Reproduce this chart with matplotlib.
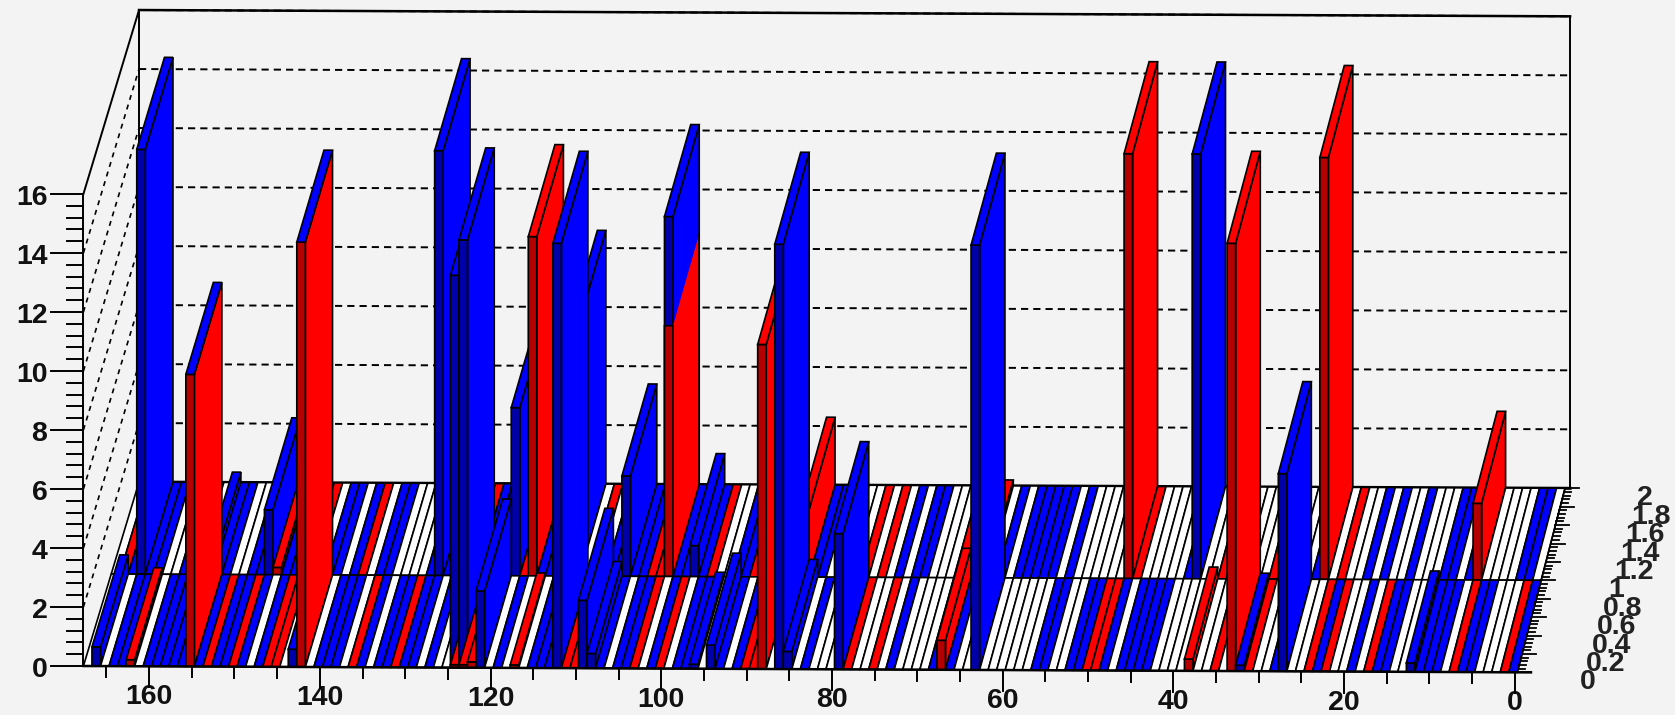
import matplotlib
matplotlib.use('Agg')
import matplotlib.pyplot as plt
from matplotlib.patches import Polygon

# colour of every flat cell, left to right (x = 167 down to 0), one row per y bin
front_cells = ("wbwbbrwbbb" "bbrbrbbrbw" "brrwbrwbbb" "wrbwbbrbbw" "bwwbbrbwbw"
               "rwbbbbrrbb" "bwbbrwbrwb" "bbwbbwbrrr" "wbbwbwwwbr" "wwrwbwwwwb"
               "rbwwbwwwww" "wbbwwbbrrb" "wbbbbwwwwr" "wwrwrbrwwb" "bwwrbrwwbw"
               "rbbwwbbbbw" "rbbwwwrb")
back_cells = ("wrbbbbwwbb" "wbbbwwbbbr" "bbbrwbbwbr" "wbbwwwwbbb" "bbrbbbbbrr"
              "bbrbbwrwbb" "bbbrrbbbbb" "rwwbbrwrbr" "brbbwwwwrw" "rwbwbbwwwr"
              "rbrwbwbbbb" "bwbwwwwwwr" "rwwwwwbbww" "rwwwwwrwww" "wbrwrwwbwb"
              "wwbwwwbbwb" "rwwwwbbw")

# raised bars in the row y=0..1
front_x = [166, 162, 155, 143, 142, 124, 124, 123, 123, 122, 121, 117, 112, 109, 108,
           96, 94, 88, 86, 85, 79, 67, 63, 38, 33, 32, 27, 12]
front_z = [0.65, 0.22, 9.9, 0.6, 14.4, 13.3, 0.1, 14.5, 0.1, 0.2, 2.6, 0.1, 14.4, 2.3, 0.5,
           0.15, 0.8, 11.0, 14.4, 0.6, 4.6, 1.0, 14.4, 0.4, 14.5, 0.2, 6.7, 0.3]
front_col = "brrbrbrbrrbrbbbbbrbbbrbrrbbb"
front_top = "brbbbbrbrrbrbbbbbrbbbrbrrbbb"

# raised bars in the row y=1..2, '-' as top: stacked under the bar drawn before it
back_x = [164, 156, 149, 148, 129, 120, 118, 113, 107, 102, 102, 99, 86, 65, 48, 40, 25, 7]
back_z = [14.4, 0.35, 2.2, 0.25, 14.4, 5.7, 11.5, 8.6, 3.4, 12.2, 8.5, 1.05, 2.3, 0.2, 14.4, 14.4, 14.3, 2.6]
back_col = "bbbrbbrbbbrbrrrbrr"
back_top = "bbbrbbrbbb-brrrbrr"

x_labels = [0, 20, 40, 60, 80, 100, 120, 140, 160]
y_labels = ['0', '0.2', '0.4', '0.6', '0.8', '1', '1.2', '1.4', '1.6', '1.8', '2']
z_labels = [0, 2, 4, 6, 8, 10, 12, 14, 16]

bright = {'b': '#0000ff', 'r': '#ff0000', 'w': '#ffffff'}
dark = {'b': '#0000aa', 'r': '#b40000', 'w': '#ffffff'}
LW = 1.2
FONT = 'Liberation Sans'


def project(x, y, z=0):
    # oblique view of the lego box, the result is in figure pixels
    sx = 1517.3 + 23.85 * y - (8.535 - 0.0235 * y) * x
    sy = 666 + (sx - 23.85 * y - 84) * 0.0044 - 92 * y - 29.5 * z
    return sx, sy


def draw_cell(ax, x, y, z, col, top):
    x0, x1 = x, x + 1
    y0, y1 = y, y + 1
    if z > 0:
        front = [project(x1, y0, 0), project(x0, y0, 0), project(x0, y0, z), project(x1, y0, z)]
        side = [project(x0, y0, 0), project(x0, y1, 0), project(x0, y1, z), project(x0, y0, z)]
        if top == '-':
            # no black seam between the two parts of a stack
            ax.add_patch(Polygon(side, fc=bright[col], ec='none'))
            line(ax, side[1], (side[1][0], side[1][1] - 29.5 * z), lw=LW, zorder=1)
        else:
            ax.add_patch(Polygon(side, fc=bright[col], ec='black', lw=LW))
        ax.add_patch(Polygon(front, fc=dark[col], ec='black', lw=LW))
    if top != '-':
        roof = [project(x1, y0, z), project(x0, y0, z), project(x0, y1, z), project(x1, y1, z)]
        ax.add_patch(Polygon(roof, fc=bright[top], ec='black', lw=LW))


def draw_row(ax, y, cells, bar_x, bar_z, bar_col, bar_top):
    for i, c in enumerate(cells):
        x = 167 - i
        raised = [k for k, v in enumerate(bar_x) if v == x]
        if not raised:
            draw_cell(ax, x, y, 0, c, c)
        for k in raised:
            draw_cell(ax, x, y, bar_z[k], bar_col[k], bar_top[k])


def line(ax, p, q, **kw):
    kw.setdefault('color', 'black')
    kw.setdefault('lw', 1.2)
    kw.setdefault('zorder', 0.5)
    ax.plot([p[0], q[0]], [p[1], q[1]], **kw)


fig = plt.figure(figsize=(16.75, 7.15), dpi=100, facecolor='#f3f3f3')
ax = fig.add_axes([0, 0, 1, 1])
ax.set_xlim(0, 1675)
ax.set_ylim(715, 0)
ax.axis('off')

# walls
XR = -0.6
for z in z_labels[1:]:
    line(ax, project(168, 2, z), project(XR, 2, z), ls=(0, (3.7, 2.6)), lw=1.4)
for z in z_labels[1:-1]:
    line(ax, project(168, 0, z), project(168, 2, z), ls=(0, (3, 3)), lw=1.2)
line(ax, project(168, 0, 0), project(168, 0, 16), lw=1.4)
line(ax, project(168, 0, 16), project(168, 2, 16), lw=1.4)
line(ax, project(168, 2, 0), project(168, 2, 16), lw=1.4)
line(ax, project(168, 2, 16), project(XR, 2, 16), lw=1.8)
line(ax, project(XR, 2, 0), project(XR, 2, 16), lw=1.4)
line(ax, project(168, 2, 0), project(XR, 2, 0), lw=2.2)

draw_row(ax, 1, back_cells, back_x, back_z, back_col, back_top)
draw_row(ax, 0, front_cells, front_x, front_z, front_col, front_top)

# x axis
line(ax, project(168, 0), project(-1.6, 0), lw=1.8, zorder=5)
for v in range(0, 170, 5):
    sx, sy = project(v + 0.3, 0)
    length = 20 if v % 20 == 0 else 10
    line(ax, (sx, sy + 1), (sx, sy + 1 + length), lw=1.4, zorder=5)
for v in x_labels:
    sx, sy = project(v + 0.3, 0)
    ax.text(sx, sy + 31, str(v), ha='center', va='center', fontsize=20.5, fontweight='bold',
            family=FONT, color='#111111')

# y axis, on the right edge of the floor
line(ax, project(0, 0), project(0, 2), lw=1.2, zorder=5)
for k in range(51):
    yy = k * 0.04
    sx, sy = project(0, yy)
    length = 14 if k % 5 == 0 else 7
    line(ax, (sx, sy), (sx + length, sy), lw=1.3, zorder=5)
for k, lab in enumerate(y_labels):
    yy = k * 0.2
    sx, sy = project(0, yy)
    ax.text(sx + 63 + 4.5 * yy, sy + 10, lab, ha='left', va='center', fontsize=20.5, fontweight='bold',
            family=FONT, color='#222222')

# z axis
for k in range(41):
    z = k * 0.4
    sx, sy = project(168, 0, z)
    length = 32 if k % 5 == 0 else 16
    line(ax, (sx - length, sy), (sx, sy), lw=1.4, zorder=5)
for z in z_labels:
    sx, sy = project(168, 0, z)
    ax.text(sx - 36, sy + 4, str(z), ha='right', va='center', fontsize=20.5, fontweight='bold',
            family=FONT, color='#111111')

fig.savefig('out.png', dpi=100, facecolor=fig.get_facecolor())
